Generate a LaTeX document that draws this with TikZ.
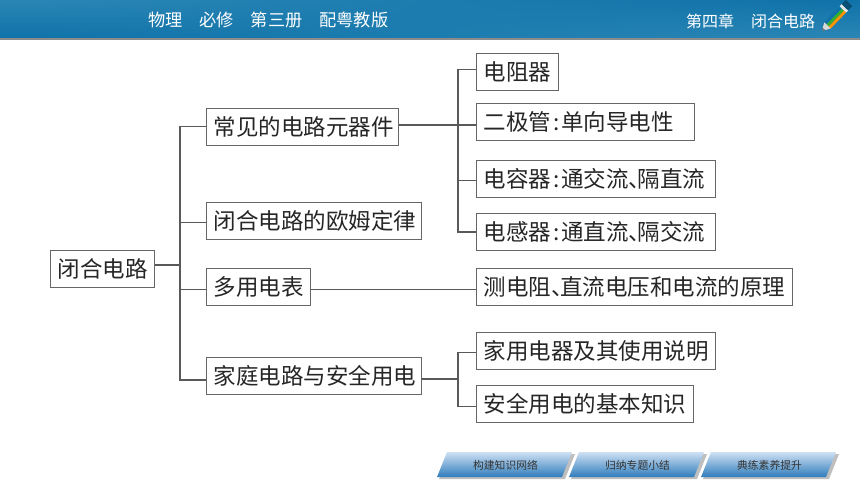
\documentclass[tikz,border=0pt]{standalone}
\usepackage{fontspec}
\setmainfont{Noto Sans CJK SC}
\usetikzlibrary{calc,positioning,fadings}
\definecolor{barDark}{HTML}{0F72A9}
\definecolor{barLight}{HTML}{2C87B6}
\definecolor{tabTop}{HTML}{CFE0F4}
\definecolor{tabBottom}{HTML}{2F7DBB}
\newcommand{\colonmark}{\makebox[10pt][c]{:}}
\newcommand{\pausemark}{\makebox[9pt][l]{、}}
\tikzset{
    box/.style={draw=black!60, line width=0.9pt, fill=white, anchor=north west, inner xsep=7.5pt, inner ysep=0pt,
      text width=#1-15pt, align=left, minimum height=37pt, font=\fontsize{22.5}{24}\selectfont, text=black!85},
    link/.style={draw=black!65, line width=1.1pt},
    headtext/.style={text=white, inner sep=0pt, anchor=west},
    tabtext/.style={inner sep=0pt, text=black!80, font=\fontsize{10.8}{12}\selectfont}
}

\begin{document}
\begin{tikzpicture}[x=1pt, y=-1pt]
\useasboundingbox (0,0) rectangle (860,484);

% Header bar
\shade[top color=barDark, bottom color=barLight] (0,0) rectangle (860,38);
\shade[top color=barLight, bottom color=barDark, path fading=east] (0,0) rectangle (860,38);
\fill[black!45] (0,38) rectangle (860,40);
\node[headtext, font=\fontsize{17.2}{18}\selectfont] (book) at (148,20) {物理\hspace{17pt}必修\hspace{17pt}第三册\hspace{17pt}配粤教版};
\node[headtext, font=\fontsize{16}{18}\selectfont] (chapter) at (686,21) {第四章\hspace{17pt}闭合电路};

% Pencil
\begin{scope}[shift={(822,31)}, rotate=46]
  \fill[black!55] (0,0) -- (8,-4.5) -- (8,4.5) -- cycle;
  \fill[white!85!black] (3,-1.7) -- (8,-4.5) -- (8,4.5) -- (3,1.7) -- cycle;
  \fill[orange!85!yellow] (8,1.5) rectangle (30,4.5);
  \fill[green!60!black!80] (8,-1.5) rectangle (30,1.5);
  \fill[barDark] (8,-4.5) rectangle (30,-1.5);
  \fill[white!90!black] (30,-4.5) rectangle (33,4.5);
  \fill[barDark!70!black] (33,-4.5) rectangle (39,4.5);
\end{scope}

% Nodes
\node[box=104pt] (root) at (50,250) {闭合电路};
\node[box=192pt] (common) at (206,108) {常见的电路元器件};
\node[box=215pt] (ohm) at (206,202) {闭合电路的欧姆定律};
\node[box=104pt] (meter) at (206,268) {多用电表};
\node[box=215pt] (home) at (206,357) {家庭电路与安全用电};
\node[box=82pt] (resistor) at (476,53) {电阻器};
\node[box=218pt] (diode) at (476,103) {二极管\colonmark 单向导电性};
\node[box=239pt] (capacitor) at (476,160) {电容器\colonmark 通交流\pausemark 隔直流};
\node[box=239pt] (inductor) at (476,213) {电感器\colonmark 通直流\pausemark 隔交流};
\node[box=316pt] (principle) at (476,268) {测电阻\pausemark 直流电压和电流的原理};
\node[box=239pt] (appliance) at (476,332) {家用电器及其使用说明};
\node[box=217pt] (safety) at (476,385) {安全用电的基本知识};

% Tree lines
\coordinate (trunk) at (180,265);
\coordinate (fork) at (458,125);
\coordinate (homefork) at (458,379);
\draw[link] (root.east |- trunk) -- (trunk);
\draw[link] (trunk) |- (common.west);
\draw[link] (trunk |- ohm.west) ++(0,1.5) -- ([yshift=-1.5pt]ohm.west);
\draw[link] (trunk |- meter.west) ++(0,2.5) -- ([yshift=-2.5pt]meter.west);
\draw[link] (trunk) |- ([yshift=-4pt]home.west);
\draw[link] (common.east |- fork) -- (diode.west |- fork);
\draw[link] (fork) |- ([yshift=2.5pt]resistor.west);
\draw[link] (fork) |- (inductor.west);
\draw[link] (fork |- capacitor.west) ++(0,2) -- ([yshift=-2pt]capacitor.west);
\draw[link] ([yshift=-2.5pt]meter.east) -- ([yshift=-2.5pt]principle.west);
\draw[link] (home.east |- homefork) -- (homefork);
\draw[link] (homefork) |- ([yshift=-1.5pt]appliance.west);
\draw[link] (homefork) |- ([yshift=-2.5pt]safety.west);

% Bottom tabs
\foreach \name/\xpos/\txt in {tabA/437/构建知识网络, tabB/569/归纳专题小结, tabC/701/典练素养提升}{
  \fill[black!25] (\xpos+2,479) -- (\xpos+12,454) -- (\xpos+138,454) -- (\xpos+128,479) -- cycle;
  \shade[top color=tabTop, bottom color=tabBottom] (\xpos,477) -- (\xpos+10,452) -- (\xpos+135,452) -- (\xpos+125,477) -- cycle;
  \node[tabtext] (\name) at (\xpos+68.5,465) {\txt};
}
\end{tikzpicture}
\end{document}
